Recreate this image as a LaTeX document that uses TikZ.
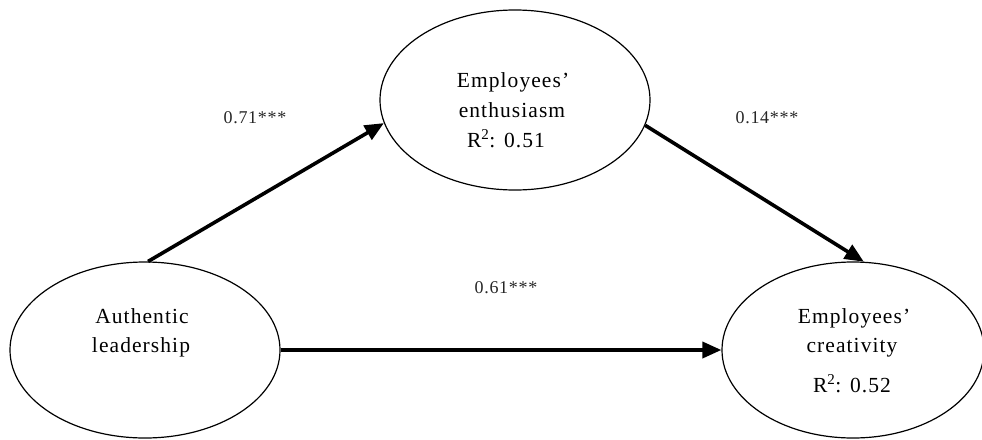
\documentclass[tikz,border=0pt]{standalone}
\usepackage{fontspec}
\setmainfont{Liberation Serif}
\usetikzlibrary{arrows.meta,shapes.geometric}
\tikzset{
  latent/.style={draw, ellipse, line width=1.2pt, inner sep=0pt},
  txt/.style={anchor=base, inner sep=0pt, font=\fontsize{21.5}{25}\selectfont\addfontfeatures{LetterSpace=5}},
  coef/.style={inner sep=0pt, font=\fontsize{18}{20}\selectfont\addfontfeatures{LetterSpace=4}, text=black!85},
  path/.style={line width=3.6pt, -{Triangle[length=19pt,width=16pt]}}
}
\begin{document}
\begin{tikzpicture}[x=1pt,y=-1pt]
\useasboundingbox (0,0) rectangle (982,439);
\node[latent, minimum width=270pt, minimum height=180pt] (ee) at (515,100) {};
\node[latent, minimum width=270pt, minimum height=176pt] (al) at (145,350) {};
\node[latent, minimum width=262pt, minimum height=176pt] (ec) at (853,350) {};
% texts
\node[txt] (ee1) at (513,87) {Employees’};
\node[txt] (ee2) at (512,117) {enthusiasm};
\node[txt] (ee3) at (506,147) {R\textsuperscript{2}: 0.51};
\node[txt] (al1) at (142,323) {Authentic};
\node[txt] (al2) at (141,352) {leadership};
\node[txt] (ec1) at (854,323) {Employees’};
\node[txt] (ec2) at (852,352) {creativity};
\node[txt] (ec3) at (852,392) {R\textsuperscript{2}: 0.52};
% connectors
\draw[path] (al.88) -- (ee.190);
\draw[path] (ee.-11) -- (ec.83);
\draw[path] (al.east) -- (ec.west);
% coefficients
\node[coef] (c1) at (255,118) {0.71***};
\node[coef] (c2) at (767,118) {0.14***};
\node[coef] (c3) at (506,288) {0.61***};
\end{tikzpicture}
\end{document}
